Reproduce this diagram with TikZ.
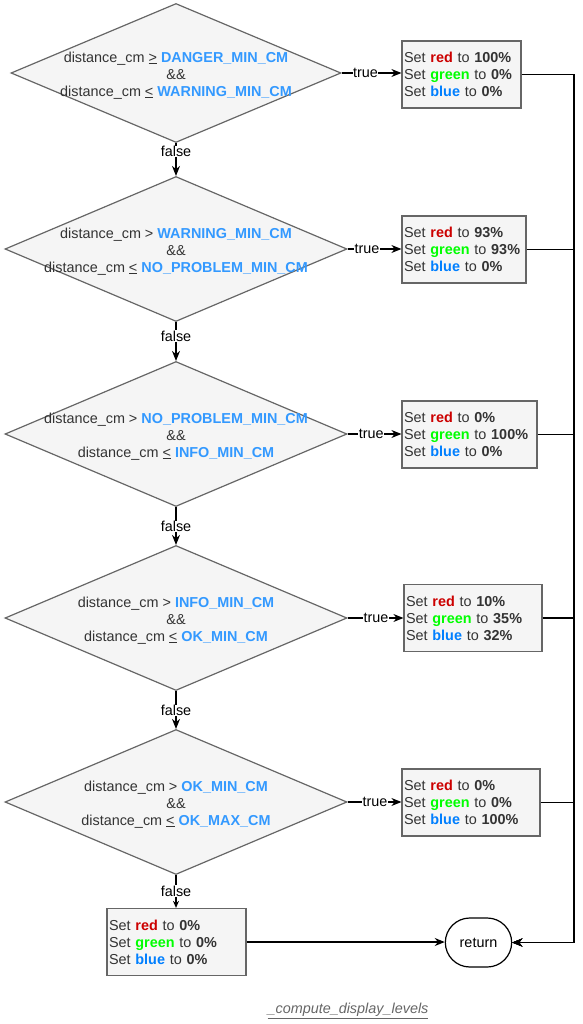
\documentclass[tikz,border=0pt]{standalone}
\usepackage{fontspec}
\setmainfont{Liberation Sans}
\usepackage{xcolor}
\usetikzlibrary{arrows.meta,shapes.geometric,shapes.misc}

\definecolor{fillgray}{HTML}{F5F5F5}
\definecolor{linegray}{HTML}{666666}
\definecolor{textgray}{HTML}{333333}
\definecolor{constblue}{HTML}{3399FF}
\definecolor{setred}{HTML}{CC0000}
\definecolor{setgreen}{HTML}{00FF00}
\definecolor{setblue}{HTML}{007FFF}

\newcommand{\cst}[1]{\textcolor{constblue}{\textbf{#1}}}
\newcommand{\levels}[3]{Set \textcolor{setred}{\textbf{red}} to \textbf{#1\%}\\
Set \textcolor{setgreen}{\textbf{green}} to \textbf{#2\%}\\
Set \textcolor{setblue}{\textbf{blue}} to \textbf{#3\%}}

\tikzset{
  txt/.style={font=\fontsize{14.4}{17}\selectfont},
  decision/.style={diamond,draw=linegray,fill=fillgray,line width=1.2pt,inner sep=0pt,
    minimum width=342pt,minimum height=145pt},
  condtext/.style={txt,text=textgray,align=center,inner sep=0pt,yshift=-2.5pt},
  setbox/.style={txt,rectangle,draw=linegray,fill=fillgray,line width=1.2pt,text=textgray,
    align=left,inner xsep=2pt,inner ysep=0pt,minimum height=67pt},
  flow/.style={-{Stealth[length=10pt,width=8pt]},line width=1.2pt},
  edgelabel/.style={txt,fill=white,inner sep=0.5pt},
  terminal/.style={txt,rounded rectangle,draw,line width=1.2pt,fill=white,
    minimum width=73pt,minimum height=49pt}
}

\begin{document}
\begin{tikzpicture}[x=1pt,y=-1pt]
\useasboundingbox (0,0) rectangle (582,1024);

% conditions
\node[decision,minimum width=330pt,minimum height=139pt] (c1) at (176,73) {};
\node[condtext] at (c1) {distance\_cm \underline{>} \cst{DANGER\_MIN\_CM}\\ \&\&\\ distance\_cm \underline{<} \cst{WARNING\_MIN\_CM}};
\node[decision] (c2) at (176,249) {};
\node[condtext] at (c2) {distance\_cm > \cst{WARNING\_MIN\_CM}\\ \&\&\\ distance\_cm \underline{<} \cst{NO\_PROBLEM\_MIN\_CM}};
\node[decision] (c3) at (176,434) {};
\node[condtext] at (c3) {distance\_cm > \cst{NO\_PROBLEM\_MIN\_CM}\\ \&\&\\ distance\_cm \underline{<} \cst{INFO\_MIN\_CM}};
\node[decision] (c4) at (176,618) {};
\node[condtext] at (c4) {distance\_cm > \cst{INFO\_MIN\_CM}\\ \&\&\\ distance\_cm \underline{<} \cst{OK\_MIN\_CM}};
\node[decision] (c5) at (176,802) {};
\node[condtext] at (c5) {distance\_cm > \cst{OK\_MIN\_CM}\\ \&\&\\ distance\_cm \underline{<} \cst{OK\_MAX\_CM}};

% colour levels
\node[setbox,text width=115pt] (b1) at (461.5,74.5) {\levels{100}{0}{0}};
\node[setbox,text width=120pt] (b2) at (464,249.5) {\levels{93}{93}{0}};
\node[setbox,text width=131pt] (b3) at (469.5,434.5) {\levels{0}{100}{0}};
\node[setbox,text width=134pt] (b4) at (473,618) {\levels{10}{35}{32}};
\node[setbox,text width=134pt] (b5) at (471,802.5) {\levels{0}{0}{100}};
\node[setbox,text width=135pt] (b6) at (176.5,942) {\levels{0}{0}{0}};

\node[terminal] (ret) at (478.5,942.5) {return};
\coordinate (busend) at (574,942.5);

% true branches
\draw[flow] (c1.east) -- node[edgelabel,pos=0.4]{true} (c1.east -| b1.west);
\draw[flow] (c2.east) -- node[edgelabel,pos=0.36]{true} (c2.east -| b2.west);
\draw[flow] (c3.east) -- node[edgelabel,pos=0.44]{true} (c3.east -| b3.west);
\draw[flow] (c4.east) -- node[edgelabel,pos=0.51]{true} (c4.east -| b4.west);
\draw[flow] (c5.east) -- node[edgelabel,pos=0.51]{true} (c5.east -| b5.west);

% false branches
\draw[flow] (c1.south) -- node[edgelabel,pos=0.26]{false} (c2.north);
\draw[flow] (c2.south) -- node[edgelabel,pos=0.36]{false} (c3.north);
\draw[flow] (c3.south) -- node[edgelabel,pos=0.51]{false} (c4.north);
\draw[flow] (c4.south) -- node[edgelabel,pos=0.51]{false} (c5.north);
\draw[-{Stealth[length=7pt,width=6pt]},line width=1.2pt] (c5.south) -- node[edgelabel,pos=0.48]{false} (c5.south |- b6.north);

% to return
\foreach \b in {b1,b2,b3,b4,b5}
  \draw[flow] (\b.east) -| (busend) -- (ret.east);
\draw[flow] (b6.east -| b6.east) -- (b6.east -| ret.west);

\node[txt,text=linegray,font=\fontsize{14.4}{17}\selectfont\itshape] (title) at (348,1011) {\underline{\_compute\_display\_levels}};
\end{tikzpicture}
\end{document}
